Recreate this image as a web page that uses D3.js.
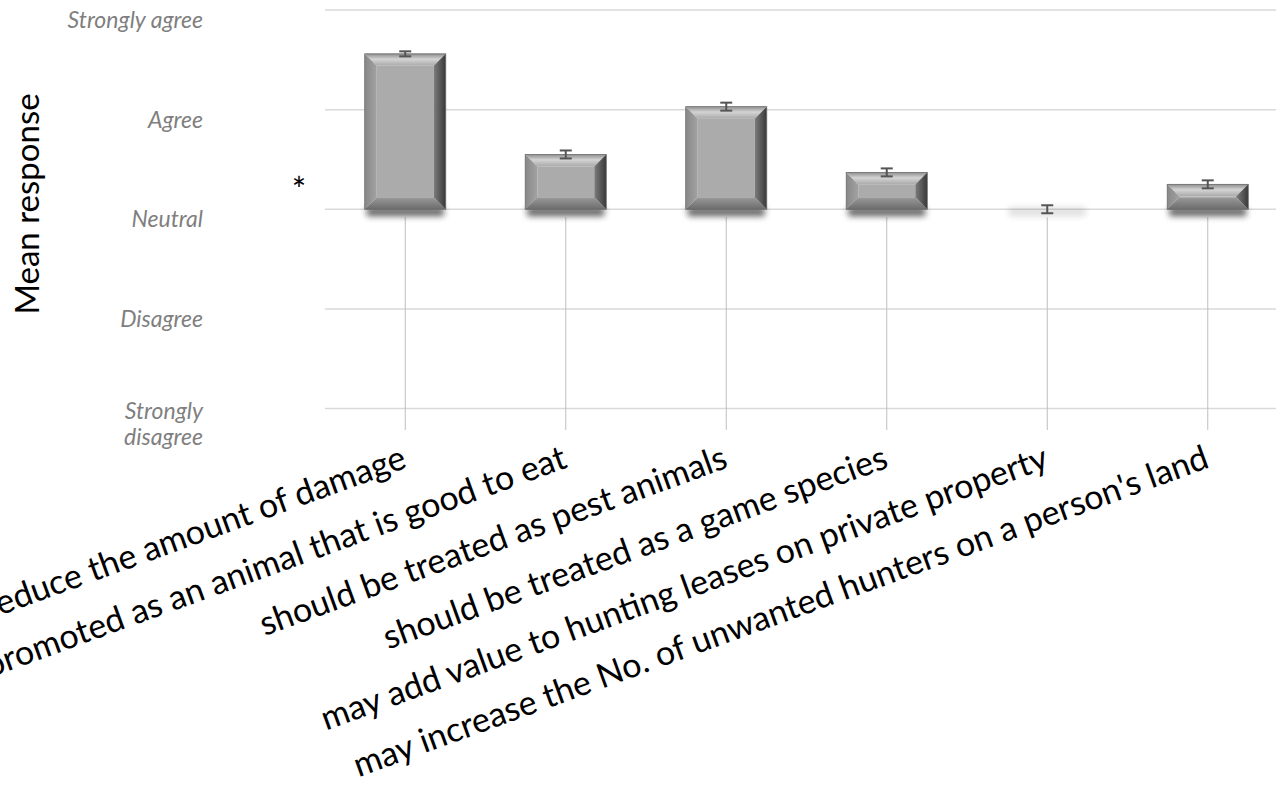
<!doctype html>
<html>
<head>
<meta charset="utf-8">
<title>Mean response</title>
<style>
  html, body { margin: 0; padding: 0; background: #fff; }
  svg { display: block; }
</style>
<script src="https://cdnjs.cloudflare.com/ajax/libs/d3/7.8.5/d3.min.js"></script>
</head>
<body>
<script>
// statements shown on the x axis
var categories = [
  "may reduce the amount of damage",
  "should be promoted as an animal that is good to eat",
  "should be treated as pest animals",
  "should be treated as a game species",
  "may add value to hunting leases on private property",
  "may increase the No. of unwanted hunters on a person's land"
];
// mean response (1 = strongly disagree ... 5 = strongly agree)
var means = [4.56, 3.55, 4.03, 3.37, 3.00, 3.25];
var errors = [0.025, 0.04, 0.04, 0.04, 0.04, 0.04];
var tickValues = [1, 2, 3, 4, 5];
var tickLabels = [["Strongly", "disagree"], ["Disagree"], ["Neutral"], ["Agree"], ["Strongly agree"]];

var width = 1278, height = 787;
var font = "Lato, 'Open Sans', sans-serif";
var svg = d3.select("body").append("svg")
    .attr("width", width)
    .attr("height", height);

var y = d3.scaleLinear().domain([1, 5]).range([408.5, 10]);
var x = d3.scaleBand().domain(categories)
    .range([325, 1288])
    .paddingInner(0.495)
    .paddingOuter(0.2475);

var defs = svg.append("defs");
function grad(id, x2, y2, stops) {
  var g = defs.append("linearGradient").attr("id", id)
      .attr("x1", 0).attr("y1", 0).attr("x2", x2).attr("y2", y2);
  stops.forEach(function (s) {
    g.append("stop").attr("offset", s[0]).attr("stop-color", s[1]);
  });
}
grad("gTop", 0, 1, [[0, "#8e8e8e"], [0.45, "#d4d4d4"], [1, "#a9a9a9"]]);
grad("gRight", 1, 0, [[0, "#7c7c7c"], [1, "#383838"]]);
grad("gLeft", 1, 0, [[0, "#888"], [1, "#a2a2a2"]]);
grad("gBottom", 0, 1, [[0, "#9a9a9a"], [1, "#6c6c6c"]]);

var blur = defs.append("filter").attr("id", "shadow")
    .attr("x", "-20%").attr("y", "-200%").attr("width", "140%").attr("height", "500%");
blur.append("feGaussianBlur").attr("stdDeviation", 3);

// horizontal gridlines
svg.append("g").selectAll("line")
  .data(tickValues).enter().append("line")
    .attr("x1", 325).attr("x2", 1276)
    .attr("y1", function (d) { return y(d); })
    .attr("y2", function (d) { return y(d); })
    .attr("stroke", "#d9d9d9")
    .attr("stroke-width", 1.5);

// category tick lines
svg.append("g").selectAll("line")
  .data(categories).enter().append("line")
    .attr("x1", function (d) { return x(d) + x.bandwidth() / 2; })
    .attr("x2", function (d) { return x(d) + x.bandwidth() / 2; })
    .attr("y1", y(3) + 8).attr("y2", 430)
    .attr("stroke", "#bfbfbf")
    .attr("stroke-width", 1);

// y tick labels
var yl = svg.append("g")
    .attr("font-family", font)
    .attr("font-style", "italic")
    .attr("font-size", 23)
    .attr("fill", "#7f7f7f")
    .attr("text-anchor", "end");
yl.selectAll("text")
  .data(tickValues).enter().append("text")
    .attr("x", 203)
    .attr("y", function (d, i) { return y(d) + (tickLabels[i].length > 1 ? 10 : 18); })
    .each(function (d, i) {
      var t = d3.select(this);
      tickLabels[i].forEach(function (line, j) {
        t.append("tspan").attr("x", 203).attr("dy", j === 0 ? 0 : 26).text(line);
      });
    });

// axis title
svg.append("text")
    .attr("transform", "translate(39,204) rotate(-90)")
    .attr("text-anchor", "middle")
    .attr("font-family", font)
    .attr("font-size", 33)
    .attr("fill", "#000")
    .text("Mean response");

// significance mark
svg.append("text")
    .attr("x", 299).attr("y", 202)
    .attr("text-anchor", "middle")
    .attr("font-family", font)
    .attr("font-size", 34)
    .attr("fill", "#000")
    .text("*");

// bars
var bars = svg.append("g").selectAll("g")
  .data(categories).enter().append("g");

bars.append("rect")
    .attr("x", function (d) { return x(d) + 2; })
    .attr("width", x.bandwidth() - 4)
    .attr("y", y(3) - 2)
    .attr("height", 9)
    .attr("fill", "#000")
    .attr("opacity", function (d, i) { return means[i] - 3 > 0.02 ? 0.6 : 0.12; })
    .attr("filter", "url(#shadow)");

bars.each(function (d, i) {
  var g = d3.select(this);
  var x0 = x(d), x1 = x(d) + x.bandwidth();
  var y0 = y(means[i]), y1 = y(3);
  var h = y1 - y0;
  if (h < 1) return;
  var b = Math.min(12, h / 2);
  function poly(pts, fill) {
    g.append("polygon")
      .attr("points", pts.map(function (p) { return p.join(","); }).join(" "))
      .attr("fill", fill);
  }
  g.append("rect").attr("x", x0 + b).attr("y", y0 + b)
    .attr("width", x1 - x0 - 2 * b).attr("height", Math.max(0, h - 2 * b))
    .attr("fill", "#ababab");
  poly([[x0, y0], [x1, y0], [x1 - b, y0 + b], [x0 + b, y0 + b]], "url(#gTop)");
  poly([[x0, y0], [x0 + b, y0 + b], [x0 + b, y1 - b], [x0, y1]], "url(#gLeft)");
  poly([[x0, y1], [x1, y1], [x1 - b, y1 - b], [x0 + b, y1 - b]], "url(#gBottom)");
  poly([[x1, y0], [x1, y1], [x1 - b, y1 - b], [x1 - b, y0 + b]], "url(#gRight)");
  g.append("rect").attr("x", x0).attr("y", y0)
    .attr("width", x1 - x0).attr("height", h)
    .attr("fill", "none").attr("stroke", "#6a6a6a").attr("stroke-width", 0.8);
});

// error bars
var eb = svg.append("g").attr("stroke", "#555").attr("stroke-width", 2);
categories.forEach(function (c, i) {
  var cx = x(c) + x.bandwidth() / 2;
  var lo = y(means[i] - errors[i]), hi = y(means[i] + errors[i]);
  eb.append("line").attr("x1", cx).attr("x2", cx).attr("y1", lo).attr("y2", hi);
  eb.append("line").attr("x1", cx - 6).attr("x2", cx + 6).attr("y1", lo).attr("y2", lo);
  eb.append("line").attr("x1", cx - 6).attr("x2", cx + 6).attr("y1", hi).attr("y2", hi);
});

// rotated category labels
svg.append("g").selectAll("text")
  .data(categories).enter().append("text")
    .attr("transform", function (d) {
      return "translate(" + (x(d) + x.bandwidth() / 2 + 3) + ",467) rotate(-20)";
    })
    .attr("text-anchor", "end")
    .attr("font-family", font)
    .attr("font-size", 34)
    .attr("fill", "#000")
    .text(function (d) { return d; });
</script>
</body>
</html>
